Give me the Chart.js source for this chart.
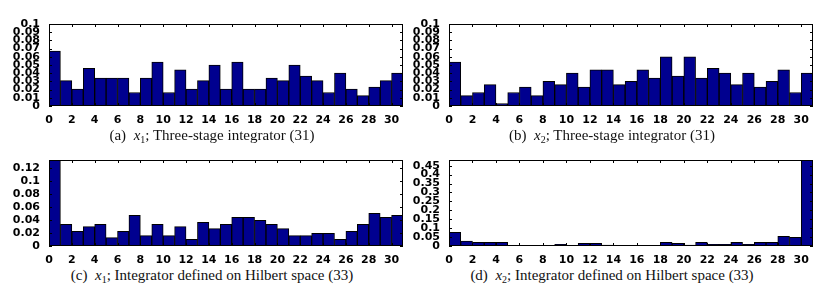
<!DOCTYPE html>
<html>
<head>
<meta charset="utf-8">
<script src="https://cdn.jsdelivr.net/npm/chart.js@4.4.1/dist/chart.umd.min.js"></script>
<style>
  body { margin: 0; background: #fff; }
  #page { position: relative; width: 827px; height: 295px; overflow: hidden; }
  canvas { position: absolute; }
  .cap {
    position: absolute; width: 424px; text-align: center;
    font-family: "Liberation Serif", "Times New Roman", serif;
    font-size: 15px; line-height: 16px; color: #111; white-space: nowrap;
  }
  .cap sub { font-size: 10px; line-height: 0; vertical-align: -3px; }
</style>
</head>
<body>
<div id="page">
  <canvas id="c1" width="410" height="124" style="left:0;top:0"></canvas>
  <canvas id="c2" width="417" height="124" style="left:410px;top:0"></canvas>
  <canvas id="c3" width="410" height="128" style="left:0;top:136px"></canvas>
  <canvas id="c4" width="417" height="128" style="left:410px;top:136px"></canvas>
  <div class="cap" style="left:0;top:127px">(a)&nbsp;&nbsp;<i>x</i><sub>1</sub>; Three-stage integrator (31)</div>
  <div class="cap" style="left:400px;top:127px">(b)&nbsp;&nbsp;<i>x</i><sub>2</sub>; Three-stage integrator (31)</div>
  <div class="cap" style="left:0;top:267px">(c)&nbsp;&nbsp;<i>x</i><sub>1</sub>; Integrator defined on Hilbert space (33)</div>
  <div class="cap" style="left:400px;top:267px">(d)&nbsp;&nbsp;<i>x</i><sub>2</sub>; Integrator defined on Hilbert space (33)</div>
</div>
<script>
// bins 0..30, each bar covers [k, k+1]
const bins = [0,1,2,3,4,5,6,7,8,9,10,11,12,13,14,15,16,17,18,19,20,21,22,23,24,25,26,27,28,29,30];
const xTicks = [0,2,4,6,8,10,12,14,16,18,20,22,24,26,28,30];

const x1Three = [0.067,0.031,0.0205,0.046,0.034,0.034,0.034,0.0165,0.034,0.0535,0.0165,0.044,0.0205,0.031,0.05,0.0205,
  0.0535,0.0205,0.0205,0.034,0.031,0.05,0.0365,0.031,0.0165,0.040,0.0205,0.0127,0.023,0.031,0.040];
const x2Three = [0.0535,0.0127,0.0165,0.026,0.003,0.0165,0.023,0.0127,0.030,0.026,0.040,0.023,0.044,0.044,0.026,0.030,
  0.044,0.034,0.060,0.0365,0.060,0.034,0.046,0.040,0.026,0.040,0.023,0.030,0.044,0.0165,0.040];
const x1Hilbert = [0.132,0.0333,0.0226,0.0297,0.0333,0.0128,0.0226,0.0472,0.0159,0.0333,0.0159,0.0297,0.0103,0.0364,0.0267,0.0333,
  0.0441,0.0441,0.0395,0.0333,0.0267,0.0159,0.0159,0.0195,0.0195,0.0103,0.0226,0.0333,0.0503,0.0441,0.0472];
const x2Hilbert = [0.077,0.028,0.021,0.021,0.021,0.004,0.004,0.004,0.004,0.009,0.004,0.015,0.015,0.005,0.001,0.004,
  0.004,0.001,0.021,0.015,0.005,0.021,0.009,0.009,0.021,0.009,0.021,0.021,0.054,0.049,0.482];

const yTicksThree = [0,0.01,0.02,0.03,0.04,0.05,0.06,0.07,0.08,0.09,0.1];
const yTicksX1Hilbert = [0,0.02,0.04,0.06,0.08,0.1,0.12];
const yTicksX2Hilbert = [0,0.05,0.1,0.15,0.2,0.25,0.3,0.35,0.4,0.45];

const tickFont = { family: "DejaVu Sans", size: 11, weight: "bold", lineHeight: 1 };

// matlab style box with inward ticks
const boxPlugin = {
  id: "box",
  afterDatasetsDraw(chart) {
    const { ctx, chartArea: a, scales } = chart;
    ctx.save();
    ctx.strokeStyle = "#000";
    ctx.lineWidth = 1;
    ctx.strokeRect(Math.round(a.left) + 0.5, Math.round(a.top) + 0.5,
      Math.round(a.right - a.left) - 1, Math.round(a.bottom - a.top) - 1);
    ctx.beginPath();
    scales.y.ticks.forEach(t => {
      const y = Math.round(scales.y.getPixelForValue(t.value)) + 0.5;
      ctx.moveTo(a.left, y); ctx.lineTo(a.left + 3, y);
      ctx.moveTo(a.right, y); ctx.lineTo(a.right - 3, y);
    });
    scales.x.ticks.forEach(t => {
      const x = Math.round(scales.x.getPixelForValue(t.value)) + 0.5;
      ctx.moveTo(x, a.bottom); ctx.lineTo(x, a.bottom - 3);
      ctx.moveTo(x, a.top); ctx.lineTo(x, a.top + 3);
    });
    ctx.stroke();
    ctx.restore();
  }
};

function makeHist(id, values, yMax, yTicks, yWidth, pad) {
  return new Chart(document.getElementById(id), {
    type: "bar",
    data: {
      datasets: [{
        data: values.map((v, i) => ({ x: bins[i] + 0.5, y: v })),
        backgroundColor: "#00008f",
        borderColor: "#000",
        borderWidth: 1,
        barPercentage: 1,
        categoryPercentage: 1
      }]
    },
    options: {
      responsive: false,
      animation: false,
      layout: { padding: pad },
      plugins: { legend: { display: false }, tooltip: { enabled: false } },
      scales: {
        x: {
          type: "linear", min: 0, max: 31, offset: false,
          grid: { display: false }, border: { display: false },
          afterBuildTicks: s => { s.ticks = xTicks.map(v => ({ value: v })); },
          afterFit: s => { s.height = 18; },
          ticks: { color: "#000", font: tickFont, padding: 1, autoSkip: false, maxRotation: 0 }
        },
        y: {
          min: 0, max: yMax,
          grid: { display: false }, border: { display: false },
          afterBuildTicks: s => { s.ticks = yTicks.map(v => ({ value: v })); },
          afterFit: s => { s.width = yWidth; },
          ticks: { color: "#000", font: tickFont, padding: 1, autoSkip: false,
            callback: v => String(+v.toFixed(3)) }
        }
      }
    },
    plugins: [boxPlugin]
  });
}

makeHist("c1", x1Three, 0.1, yTicksThree, 49, { top: 24, right: 7, left: 0, bottom: 0 });
makeHist("c2", x2Three, 0.1, yTicksThree, 39, { top: 24, right: 14, left: 0, bottom: 0 });
makeHist("c3", x1Hilbert, 0.132, yTicksX1Hilbert, 49, { top: 24, right: 7, left: 0, bottom: 0 });
makeHist("c4", x2Hilbert, 0.482, yTicksX2Hilbert, 39, { top: 24, right: 14, left: 0, bottom: 0 });
</script>
</body>
</html>
